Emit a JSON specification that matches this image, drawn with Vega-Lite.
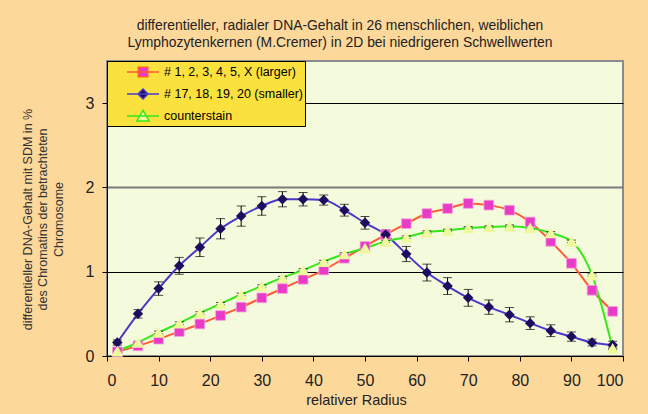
{
  "$schema": "https://vega.github.io/schema/vega-lite/v6.json",
  "width": 516,
  "height": 295,
  "autosize": "none",
  "padding": {"left": 107, "top": 61, "right": 25, "bottom": 58},
  "background": "#FDD89B",
  "title": {
    "text": [
      "differentieller, radialer DNA-Gehalt in 26 menschlichen, weiblichen",
      "Lymphozytenkernen (M.Cremer) in 2D  bei niedrigeren Schwellwerten"
    ],
    "font": "Liberation Sans",
    "fontSize": 13.9,
    "fontWeight": "normal",
    "color": "#222222",
    "lineHeight": 17,
    "offset": 11,
    "dx": -25,
    "anchor": "middle"
  },
  "data": {
    "values": [
      {"series": "# 1, 2, 3, 4, 5, X (larger)", "x": 2, "y": 0.05, "err": 0.01},
      {"series": "# 1, 2, 3, 4, 5, X (larger)", "x": 6, "y": 0.12, "err": 0.01},
      {"series": "# 1, 2, 3, 4, 5, X (larger)", "x": 10, "y": 0.20, "err": 0.015},
      {"series": "# 1, 2, 3, 4, 5, X (larger)", "x": 14, "y": 0.29, "err": 0.02},
      {"series": "# 1, 2, 3, 4, 5, X (larger)", "x": 18, "y": 0.38, "err": 0.02},
      {"series": "# 1, 2, 3, 4, 5, X (larger)", "x": 22, "y": 0.48, "err": 0.02},
      {"series": "# 1, 2, 3, 4, 5, X (larger)", "x": 26, "y": 0.58, "err": 0.025},
      {"series": "# 1, 2, 3, 4, 5, X (larger)", "x": 30, "y": 0.69, "err": 0.03},
      {"series": "# 1, 2, 3, 4, 5, X (larger)", "x": 34, "y": 0.80, "err": 0.03},
      {"series": "# 1, 2, 3, 4, 5, X (larger)", "x": 38, "y": 0.91, "err": 0.03},
      {"series": "# 1, 2, 3, 4, 5, X (larger)", "x": 42, "y": 1.02, "err": 0.03},
      {"series": "# 1, 2, 3, 4, 5, X (larger)", "x": 46, "y": 1.16, "err": 0.03},
      {"series": "# 1, 2, 3, 4, 5, X (larger)", "x": 50, "y": 1.30, "err": 0.035},
      {"series": "# 1, 2, 3, 4, 5, X (larger)", "x": 54, "y": 1.44, "err": 0.035},
      {"series": "# 1, 2, 3, 4, 5, X (larger)", "x": 58, "y": 1.57, "err": 0.04},
      {"series": "# 1, 2, 3, 4, 5, X (larger)", "x": 62, "y": 1.69, "err": 0.045},
      {"series": "# 1, 2, 3, 4, 5, X (larger)", "x": 66, "y": 1.75, "err": 0.045},
      {"series": "# 1, 2, 3, 4, 5, X (larger)", "x": 70, "y": 1.81, "err": 0.05},
      {"series": "# 1, 2, 3, 4, 5, X (larger)", "x": 74, "y": 1.79, "err": 0.05},
      {"series": "# 1, 2, 3, 4, 5, X (larger)", "x": 78, "y": 1.73, "err": 0.045},
      {"series": "# 1, 2, 3, 4, 5, X (larger)", "x": 82, "y": 1.59, "err": 0.04},
      {"series": "# 1, 2, 3, 4, 5, X (larger)", "x": 86, "y": 1.36, "err": 0.035},
      {"series": "# 1, 2, 3, 4, 5, X (larger)", "x": 90, "y": 1.10, "err": 0.03},
      {"series": "# 1, 2, 3, 4, 5, X (larger)", "x": 94, "y": 0.78, "err": 0.03},
      {"series": "# 1, 2, 3, 4, 5, X (larger)", "x": 98, "y": 0.53, "err": 0.02},

      {"series": "# 17, 18, 19, 20 (smaller)", "x": 2, "y": 0.16, "err": 0.03},
      {"series": "# 17, 18, 19, 20 (smaller)", "x": 6, "y": 0.50, "err": 0.05},
      {"series": "# 17, 18, 19, 20 (smaller)", "x": 10, "y": 0.80, "err": 0.08},
      {"series": "# 17, 18, 19, 20 (smaller)", "x": 14, "y": 1.07, "err": 0.10},
      {"series": "# 17, 18, 19, 20 (smaller)", "x": 18, "y": 1.29, "err": 0.11},
      {"series": "# 17, 18, 19, 20 (smaller)", "x": 22, "y": 1.51, "err": 0.12},
      {"series": "# 17, 18, 19, 20 (smaller)", "x": 26, "y": 1.66, "err": 0.12},
      {"series": "# 17, 18, 19, 20 (smaller)", "x": 30, "y": 1.78, "err": 0.11},
      {"series": "# 17, 18, 19, 20 (smaller)", "x": 34, "y": 1.86, "err": 0.09},
      {"series": "# 17, 18, 19, 20 (smaller)", "x": 38, "y": 1.86, "err": 0.08},
      {"series": "# 17, 18, 19, 20 (smaller)", "x": 42, "y": 1.85, "err": 0.06},
      {"series": "# 17, 18, 19, 20 (smaller)", "x": 46, "y": 1.73, "err": 0.07},
      {"series": "# 17, 18, 19, 20 (smaller)", "x": 50, "y": 1.58, "err": 0.075},
      {"series": "# 17, 18, 19, 20 (smaller)", "x": 54, "y": 1.44, "err": 0.06},
      {"series": "# 17, 18, 19, 20 (smaller)", "x": 58, "y": 1.21, "err": 0.09},
      {"series": "# 17, 18, 19, 20 (smaller)", "x": 62, "y": 0.99, "err": 0.10},
      {"series": "# 17, 18, 19, 20 (smaller)", "x": 66, "y": 0.83, "err": 0.10},
      {"series": "# 17, 18, 19, 20 (smaller)", "x": 70, "y": 0.69, "err": 0.10},
      {"series": "# 17, 18, 19, 20 (smaller)", "x": 74, "y": 0.58, "err": 0.085},
      {"series": "# 17, 18, 19, 20 (smaller)", "x": 78, "y": 0.49, "err": 0.085},
      {"series": "# 17, 18, 19, 20 (smaller)", "x": 82, "y": 0.39, "err": 0.075},
      {"series": "# 17, 18, 19, 20 (smaller)", "x": 86, "y": 0.30, "err": 0.07},
      {"series": "# 17, 18, 19, 20 (smaller)", "x": 90, "y": 0.23, "err": 0.055},
      {"series": "# 17, 18, 19, 20 (smaller)", "x": 94, "y": 0.16, "err": 0.04},
      {"series": "# 17, 18, 19, 20 (smaller)", "x": 98, "y": 0.13, "err": 0.045},

      {"series": "counterstain", "x": 2, "y": 0.06, "err": 0.015},
      {"series": "counterstain", "x": 6, "y": 0.16, "err": 0.015},
      {"series": "counterstain", "x": 10, "y": 0.28, "err": 0.015},
      {"series": "counterstain", "x": 14, "y": 0.39, "err": 0.015},
      {"series": "counterstain", "x": 18, "y": 0.51, "err": 0.015},
      {"series": "counterstain", "x": 22, "y": 0.62, "err": 0.015},
      {"series": "counterstain", "x": 26, "y": 0.73, "err": 0.015},
      {"series": "counterstain", "x": 30, "y": 0.83, "err": 0.015},
      {"series": "counterstain", "x": 34, "y": 0.93, "err": 0.015},
      {"series": "counterstain", "x": 38, "y": 1.02, "err": 0.015},
      {"series": "counterstain", "x": 42, "y": 1.12, "err": 0.015},
      {"series": "counterstain", "x": 46, "y": 1.21, "err": 0.015},
      {"series": "counterstain", "x": 50, "y": 1.28, "err": 0.015},
      {"series": "counterstain", "x": 54, "y": 1.36, "err": 0.015},
      {"series": "counterstain", "x": 58, "y": 1.41, "err": 0.015},
      {"series": "counterstain", "x": 62, "y": 1.47, "err": 0.015},
      {"series": "counterstain", "x": 66, "y": 1.49, "err": 0.015},
      {"series": "counterstain", "x": 70, "y": 1.52, "err": 0.015},
      {"series": "counterstain", "x": 74, "y": 1.53, "err": 0.015},
      {"series": "counterstain", "x": 78, "y": 1.54, "err": 0.015},
      {"series": "counterstain", "x": 82, "y": 1.52, "err": 0.015},
      {"series": "counterstain", "x": 86, "y": 1.46, "err": 0.015},
      {"series": "counterstain", "x": 90, "y": 1.36, "err": 0.015},
      {"series": "counterstain", "x": 94, "y": 0.96, "err": 0.015},
      {"series": "counterstain", "x": 98, "y": 0.09, "err": 0.015}
    ]
  },
  "encoding": {
    "x": {
      "field": "x",
      "type": "quantitative",
      "scale": {"domain": [0, 100], "nice": false},
      "axis": {
        "values": [0, 10, 20, 30, 40, 50, 60, 70, 80, 90, 100],
        "grid": false,
        "title": "relativer Radius",
        "titleFont": "Liberation Sans",
        "titleFontSize": 14.5,
        "titleFontWeight": "normal",
        "titleColor": "#222222",
        "titleX": 249,
        "titleY": 37,
        "titleBaseline": "top",
        "labelFont": "Liberation Sans",
        "labelFontSize": 16,
        "labelColor": "#222222",
        "labelPadding": 11,
        "tickSize": 5,
        "tickColor": "#000000",
        "domainColor": "#000000"
      }
    },
    "y": {
      "field": "y",
      "type": "quantitative",
      "scale": {"domain": [0, 3.5], "nice": false},
      "axis": {
        "values": [0, 1, 2, 3],
        "title": [
          "differentieller DNA-Gehalt mit SDM in %",
          "des Chromatins der betrachteten",
          "Chromosome"
        ],
        "titleFont": "Liberation Sans",
        "titleFontSize": 12.5,
        "titleFontWeight": "normal",
        "titleColor": "#333333",
        "titleLineHeight": 15.5,
        "titleAngle": -90,
        "titleAlign": "center",
        "titleBaseline": "bottom",
        "titleX": -73,
        "titleY": 158,
        "labelFont": "Liberation Sans",
        "labelFontSize": 16,
        "labelColor": "#222222",
        "labelPadding": 8,
        "tickSize": 5,
        "tickColor": "#000000",
        "domainColor": "#000000",
        "grid": true,
        "gridColor": {"condition": {"test": "datum.value === 2", "value": "#7a7a7a"}, "value": "#000000"},
        "gridWidth": {"condition": {"test": "datum.value === 2", "value": 2}, "value": 1},
        "gridOpacity": 1
      }
    }
  },
  "layer": [
    {
      "transform": [{"filter": "datum.x < 0"}],
      "mark": {"type": "point", "filled": true, "opacity": 1, "strokeWidth": 1.6},
      "encoding": {
        "shape": {
          "field": "series",
          "type": "nominal",
          "scale": {
            "domain": ["# 1, 2, 3, 4, 5, X (larger)", "# 17, 18, 19, 20 (smaller)", "counterstain"],
            "range": [
              "M-2,0H2M-0.6,-0.6H0.6V0.6H-0.6Z",
              "M-2,0H2M0,-0.62L0.62,0L0,0.62L-0.62,0Z",
              "M-2,0H2M0,-0.7L0.78,0.62H-0.78Z"
            ]
          },
          "legend": {"title": null}
        },
        "stroke": {
          "field": "series",
          "type": "nominal",
          "scale": {
            "domain": ["# 1, 2, 3, 4, 5, X (larger)", "# 17, 18, 19, 20 (smaller)", "counterstain"],
            "range": ["#FF5A36", "#4A38C8", "#36E81A"]
          },
          "legend": {"title": null}
        }
      }
    },
    {
      "mark": {"type": "line", "interpolate": "monotone", "strokeWidth": 2},
      "encoding": {
        "color": {
          "field": "series",
          "type": "nominal",
          "scale": {"range": ["#FF5A36", "#4A38C8", "#36E81A"]},
          "legend": null
        }
      }
    },
    {
      "transform": [{"filter": "datum.series === '# 1, 2, 3, 4, 5, X (larger)'"}],
      "mark": {"type": "errorbar", "color": "#8a8a8a", "ticks": {"size": 9}, "rule": {"strokeWidth": 1}},
      "encoding": {"yError": {"field": "err"}}
    },
    {
      "transform": [{"filter": "datum.series !== '# 1, 2, 3, 4, 5, X (larger)'"}],
      "mark": {"type": "errorbar", "color": "#000000", "ticks": {"size": 9}, "rule": {"strokeWidth": 1}},
      "encoding": {"yError": {"field": "err"}}
    },
    {
      "transform": [{"filter": "datum.series === '# 1, 2, 3, 4, 5, X (larger)'"}],
      "mark": {"type": "point", "shape": "square", "size": 95, "filled": true, "opacity": 1, "stroke": "#F6A6DC", "strokeWidth": 0.8},
      "encoding": {
        "fill": {
          "field": "series",
          "type": "nominal",
          "scale": {
            "domain": ["# 1, 2, 3, 4, 5, X (larger)", "# 17, 18, 19, 20 (smaller)", "counterstain"],
            "range": ["#E83CC8", "#1E0C5C", "#EEF89C"]
          },
          "legend": {"title": null}
        }
      }
    },
    {
      "transform": [{"filter": "datum.series === '# 17, 18, 19, 20 (smaller)'"}],
      "mark": {"type": "point", "shape": "diamond", "size": 110, "filled": true, "opacity": 1, "strokeWidth": 0, "fill": "#1E0C5C"}
    },
    {
      "transform": [{"filter": "datum.series === 'counterstain'"}],
      "mark": {"type": "point", "shape": "triangle-up", "size": 150, "filled": true, "opacity": 1, "strokeWidth": 0, "fill": "#EEF89C"}
    }
  ],
  "config": {
    "view": {"fill": "#F4FBDC", "stroke": "#8c8c8c", "strokeWidth": 2},
    "legend": {
      "orient": "top-left",
      "offset": 0,
      "padding": 2,
      "fillColor": "#FAE13E",
      "strokeColor": "#000000",
      "symbolSize": 256,
      "symbolOffset": 25,
      "labelOffset": 12,
      "rowPadding": 5,
      "labelFont": "Liberation Sans",
      "labelFontSize": 12.5,
      "labelColor": "#000000",
      "labelLimit": 300
    }
  }
}
